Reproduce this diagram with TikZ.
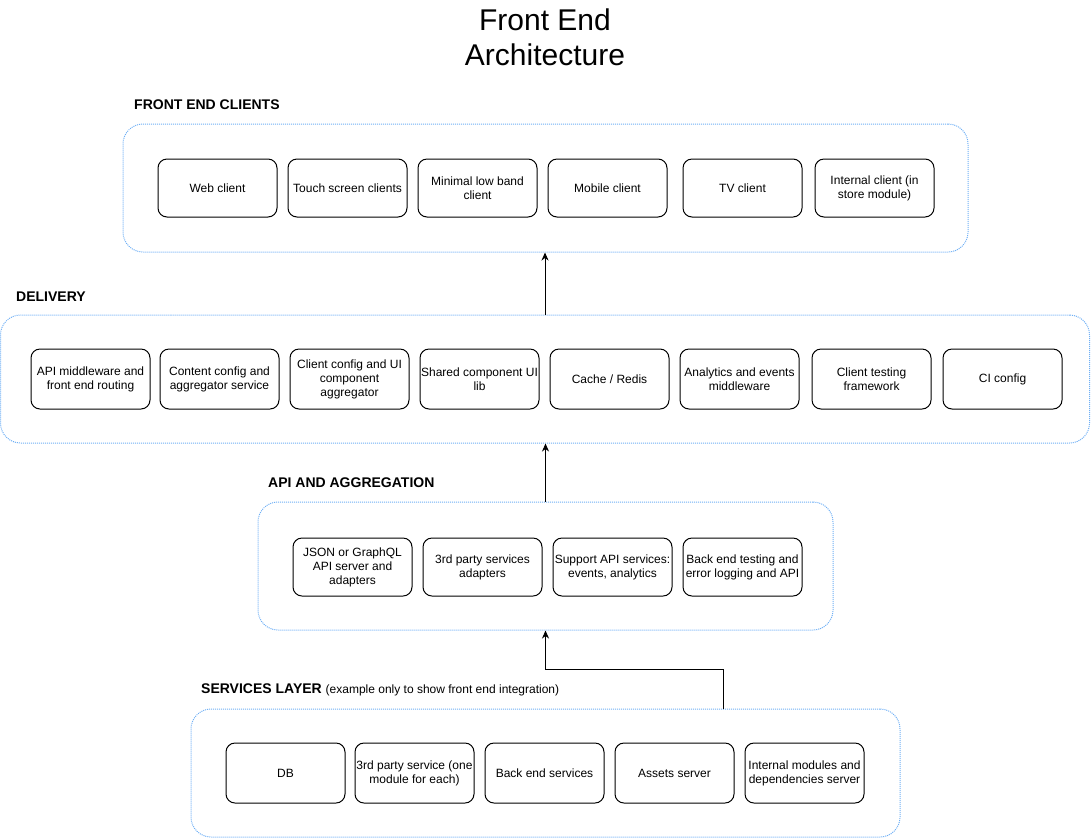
\documentclass[tikz,border=0pt]{standalone}
\usepackage{xcolor}
\usepackage{fontspec}
\setmainfont{Liberation Sans}
\usetikzlibrary{arrows.meta}
\definecolor{layerblue}{RGB}{110,175,245}

\begin{document}
\begin{tikzpicture}[x=1pt,y=-1pt,>={Stealth[length=8pt,width=7pt,inset=2.5pt]},
		layer/.style={draw=layerblue,line width=1pt,dash pattern=on 1pt off 1pt,
			rounded corners=20pt,minimum height=128pt,inner sep=0pt},
		part box/.style={draw,line width=1pt,rounded corners=9pt,minimum width=119pt,
			minimum height=58pt,align=center,inner sep=1pt,font=\fontsize{12}{14}\selectfont},
		layer label/.style={anchor=west,inner sep=0pt,font=\fontsize{14}{16}\selectfont\bfseries},
		link/.style={->,line width=1pt}]
		
		\useasboundingbox (0,0) rectangle (1091,839);
		
		\node[align=center,font=\fontsize{30}{35}\selectfont] (title) at (545,37) {Front End\\Architecture};
		
		% front end clients
		\node[layer,minimum width=845pt] (clients) at (545.5,188) {};
		\node[layer label] (clientslbl) at (134,105) {FRONT END CLIENTS};
		\node[part box] (web) at (217.5,188) {Web client};
		\node[part box] (touch) at (347.5,188) {Touch screen clients};
		\node[part box] (minimal) at (477.5,188) {Minimal low band\\client};
		\node[part box] (mobile) at (607.5,188) {Mobile client};
		\node[part box] (tv) at (742.5,188) {TV client};
		\node[part box] (internal) at (874.5,188) {Internal client (in\\store module)};
		
		% delivery
		\node[layer,minimum width=1089pt] (delivery) at (545,379) {};
		\node[layer label] (deliverylbl) at (16,297) {DELIVERY};
		\node[part box,minimum height=60pt] (apimw) at (90.5,379) {API middleware and\\front end routing};
		\node[part box,minimum height=60pt] (content) at (219.5,379) {Content config and\\aggregator service};
		\node[part box,minimum height=60pt] (clientcfg) at (349.5,379) {Client config and UI\\component\\aggregator};
		\node[part box,minimum height=60pt] (shared) at (479.5,379) {Shared component UI\\lib};
		\node[part box,minimum height=60pt] (cache) at (609.5,379) {Cache / Redis};
		\node[part box,minimum height=60pt] (analytics) at (739.5,379) {Analytics and events\\middleware};
		\node[part box,minimum height=60pt] (testing) at (871.5,379) {Client testing\\framework};
		\node[part box,minimum height=60pt] (ci) at (1002.5,379) {CI config};
		
		% api and aggregation
		\node[layer,minimum width=575pt] (api) at (545.5,566) {};
		\node[layer label] (apilbl) at (268,483) {API AND AGGREGATION};
		\node[part box] (json) at (352.5,567) {JSON or GraphQL\\API server and\\adapters};
		\node[part box] (adapters) at (482.5,567) {3rd party services\\adapters};
		\node[part box] (support) at (612.5,567) {Support API services:\\events, analytics};
		\node[part box] (backtest) at (742.5,567) {Back end testing and\\error logging and API};
		
		% services layer
		\node[layer,minimum width=709pt] (services) at (545.5,773) {};
		\node[layer label] (serviceslbl) at (201,690) {SERVICES LAYER {\fontsize{12}{14}\selectfont\mdseries (example only to show front end integration)}};
		\node[part box,minimum height=60pt] (db) at (285.5,773) {DB};
		\node[part box,minimum height=60pt] (thirdparty) at (414.5,773) {3rd party service (one\\module for each)};
		\node[part box,minimum height=60pt] (backend) at (544.5,773) {Back end services};
		\node[part box,minimum height=60pt] (assets) at (674.5,773) {Assets server};
		\node[part box,minimum height=60pt] (modules) at (804.5,773) {Internal modules and\\dependencies server};
		
		\coordinate (tap) at (723,709);
		
		\draw[link] (delivery.north) -- (delivery.north |- clients.south);
		\draw[link] (api.north) -- (api.north |- delivery.south);
		\draw[link] (tap) -- ++(0,-40) -| (api.south);
		\end{tikzpicture}
\end{document}
